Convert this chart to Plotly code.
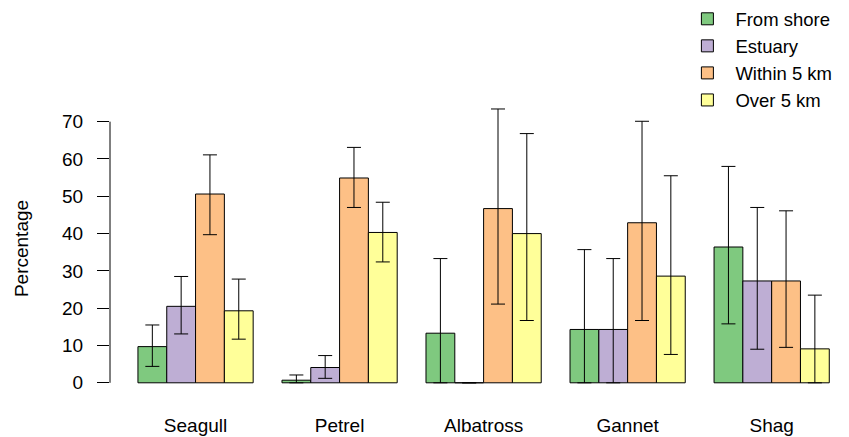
import plotly.graph_objects as go

# Bird groups and where they were seen feeding (percentages with interval bounds)
categories = ["Seagull", "Petrel", "Albatross", "Gannet", "Shag"]
series_names = ["From shore", "Estuary", "Within 5 km", "Over 5 km"]

from_shore = [9.7, 0.7, 13.3, 14.3, 36.4]
estuary = [20.5, 4.1, 0.0, 14.3, 27.3]
within_5km = [50.6, 54.9, 46.7, 42.9, 27.3]
over_5km = [19.3, 40.3, 40.0, 28.6, 9.1]

from_shore_hi = [15.5, 2.1, 33.3, 35.7, 58.0]
from_shore_lo = [4.4, 0.0, 0.0, 0.0, 15.8]
estuary_hi = [28.5, 7.3, 0.0, 33.3, 47.0]
estuary_lo = [13.1, 1.2, 0.0, 0.0, 9.0]
within_5km_hi = [61.1, 63.1, 73.4, 70.1, 46.1]
within_5km_lo = [39.7, 47.0, 21.1, 16.7, 9.5]
over_5km_hi = [27.8, 48.4, 66.8, 55.5, 23.5]
over_5km_lo = [11.7, 32.4, 16.7, 7.6, 0.0]

y_ticks = [0, 10, 20, 30, 40, 50, 60, 70]

colors = ["#7FC97F", "#BEAED4", "#FDC086", "#FFFF99"]
values = [from_shore, estuary, within_5km, over_5km]
highs = [from_shore_hi, estuary_hi, within_5km_hi, over_5km_hi]
lows = [from_shore_lo, estuary_lo, within_5km_lo, over_5km_lo]

FONT = "Liberation Sans, Arial, Helvetica, sans-serif"

fig = go.Figure()
for name, col, v, hi, lo in zip(series_names, colors, values, highs, lows):
    fig.add_trace(go.Bar(
        name=name,
        x=categories,
        y=v,
        marker=dict(color=col, line=dict(color="black", width=1)),
        error_y=dict(
            type="data",
            symmetric=False,
            array=[h - a for h, a in zip(hi, v)],
            arrayminus=[a - l for a, l in zip(v, lo)],
            color="black",
            thickness=1,
            width=7,
        ),
    ))

# y axis line spanning only the labelled tick range
fig.add_shape(type="line", xref="paper", yref="y", x0=0, x1=0,
              y0=y_ticks[0], y1=y_ticks[-1], line=dict(color="black", width=1))

fig.update_layout(
    width=849, height=437,
    margin=dict(l=110, r=0, t=103, b=43),
    paper_bgcolor="white", plot_bgcolor="white",
    barmode="group", bargap=0.2, bargroupgap=0,
    font=dict(family=FONT, size=19, color="black"),
    showlegend=True,
    legend=dict(
        x=0.7705, y=1.353, xanchor="left", yanchor="top",
        font=dict(family=FONT, size=18.5, color="black"),
        itemwidth=46, tracegroupgap=0, bgcolor="rgba(0,0,0,0)",
    ),
    xaxis=dict(
        range=[-0.594, 4.537], showline=False, showgrid=False, zeroline=False,
        ticks="outside", ticklen=14, tickcolor="rgba(0,0,0,0)",
        tickfont=dict(family=FONT, size=19, color="black"),
    ),
    yaxis=dict(
        range=[-3, 75], tickvals=y_ticks, showline=False, showgrid=False,
        zeroline=False, ticks="outside", ticklen=12, tickcolor="black",
        tickwidth=1, ticklabelstandoff=10,
        tickfont=dict(family=FONT, size=19, color="black"),
        title=dict(text="Percentage", standoff=28,
                   font=dict(family=FONT, size=19, color="black")),
    ),
)

fig.write_html("out.html")
